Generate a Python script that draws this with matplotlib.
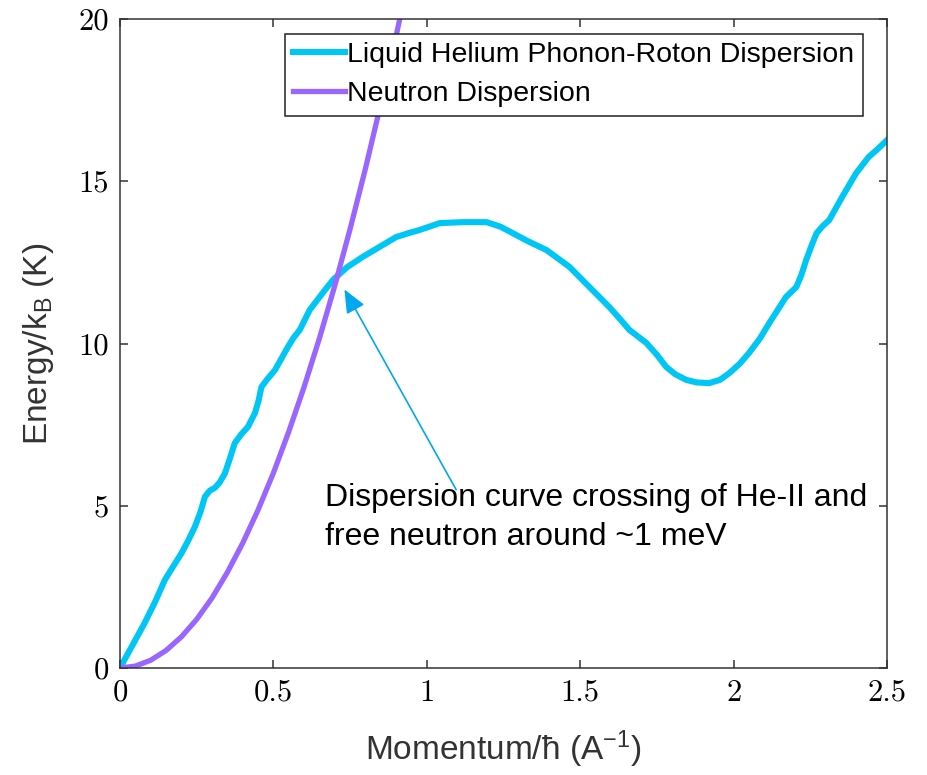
import matplotlib
matplotlib.use("Agg")
import matplotlib.pyplot as plt

# values
helium_k = [0, 0.04, 0.08, 0.115, 0.146, 0.17, 0.20, 0.222, 0.244, 0.262, 0.277, 0.293,
            0.309, 0.325, 0.342, 0.358, 0.374, 0.395, 0.417, 0.44, 0.452,
            0.461, 0.48, 0.505, 0.527, 0.547, 0.566, 0.586, 0.618, 0.66, 0.694, 0.74,
            0.791, 0.85, 0.90, 0.94, 0.977, 1.042, 1.117, 1.195, 1.24, 1.28, 1.33,
            1.39, 1.465, 1.5625, 1.595, 1.63, 1.66, 1.715, 1.75,
            1.78, 1.81, 1.845, 1.88, 1.92, 1.955, 1.986, 2.02, 2.05, 2.085, 2.116,
            2.17, 2.204, 2.22, 2.236, 2.255, 2.27, 2.29, 2.311,
            2.353, 2.399, 2.44, 2.47, 2.50]
helium_E = [0, 0.69, 1.38, 2.05, 2.71, 3.08, 3.53, 3.92, 4.35, 4.8, 5.28, 5.47,
            5.55, 5.72, 6.0, 6.45, 6.93, 7.2, 7.43, 7.86, 8.25,
            8.66, 8.9, 9.18, 9.55, 9.89, 10.18, 10.42, 11.03, 11.55, 11.96, 12.35,
            12.67, 13.0, 13.28, 13.4, 13.5, 13.71, 13.74, 13.74, 13.6, 13.4, 13.15,
            12.88, 12.36, 11.43, 11.12, 10.75, 10.42, 10.02, 9.65,
            9.28, 9.05, 8.88, 8.8, 8.78, 8.88, 9.09, 9.38, 9.71, 10.15, 10.63,
            11.43, 11.74, 12.1, 12.57, 13.05, 13.4, 13.62, 13.8,
            14.51, 15.25, 15.75, 16.0, 16.27]

neutron_k = [0, 0.05, 0.10, 0.15, 0.20, 0.25, 0.30, 0.35, 0.40, 0.45, 0.50, 0.55,
             0.60, 0.65, 0.70, 0.75, 0.80, 0.85, 0.90, 0.95]
neutron_E = [0, 0.06, 0.24, 0.54, 0.96, 1.50, 2.16, 2.95, 3.85, 4.87, 6.01, 7.28,
             8.66, 10.16, 11.78, 13.53, 15.39, 17.38, 19.48, 21.7]

xticks = [0, 0.5, 1, 1.5, 2, 2.5]
xtick_labels = ["0", "0.5", "1", "1.5", "2", "2.5"]
yticks = [0, 5, 10, 15, 20]
ytick_labels = ["0", "5", "10", "15", "20"]

plt.rcParams['font.family'] = ['Liberation Sans', 'DejaVu Sans']
plt.rcParams['mathtext.fontset'] = 'custom'
plt.rcParams['mathtext.rm'] = 'Liberation Sans'
plt.rcParams['mathtext.it'] = 'Liberation Sans:italic'

fig = plt.figure(figsize=(9.27, 7.75), dpi=100)
ax = fig.add_axes([0.1294, 0.138, 0.8276, 0.8375])

ax.plot(helium_k, helium_E, color='#00C6F6', lw=4.4, solid_joinstyle='round',
        label='Liquid Helium Phonon-Roton Dispersion')
ax.plot(neutron_k, neutron_E, color='#9966FF', lw=3.8, solid_joinstyle='round',
        label='Neutron Dispersion')

ax.set_xlim(0, 2.5)
ax.set_ylim(0, 20)
ax.set_xticks(xticks, labels=xtick_labels, fontfamily='cmr10', fontsize=22)
ax.set_yticks(yticks, labels=ytick_labels, fontfamily='cmr10', fontsize=22)
ax.tick_params(direction='in', length=6, width=1.1, color='#333333',
               top=True, right=True, pad=8)
for s in ax.spines.values():
    s.set_linewidth(1.1)
    s.set_color('#333333')

ax.set_xlabel(r'Momentum/ħ (A$^{-1}$)', fontsize=24, color='#333333', labelpad=16)
ax.set_ylabel(r'Energy/k$_\mathrm{B}$ (K)', fontsize=24, color='#333333', labelpad=16)

leg = ax.legend(loc='upper right', bbox_to_anchor=(0.9687, 0.977), borderaxespad=0,
                fontsize=20.5, fancybox=False, edgecolor='#222222', framealpha=1,
                handlelength=1.8, handletextpad=0.1, borderpad=0.3,
                labelspacing=0.45)
leg.get_frame().set_linewidth(1.1)

ax.annotate('', xy=(0.727, 11.74), xytext=(1.10, 5.42),
            arrowprops=dict(arrowstyle='-|>,head_length=0.65,head_width=0.28',
                            color='#00A8F0', lw=1.2, mutation_scale=22))
ax.text(0.668, 5.7, 'Dispersion curve crossing of He-II and\nfree neutron around ~1 meV',
        fontsize=23, va='top', ha='left', color='black', linespacing=1.38)

fig.savefig('out.png', dpi=100)
